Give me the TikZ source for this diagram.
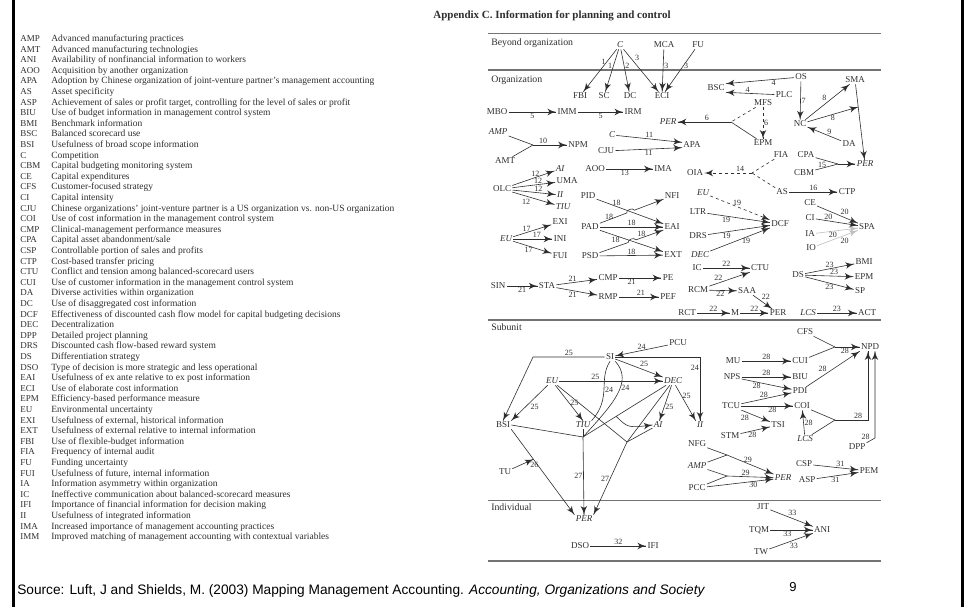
\documentclass[tikz,border=0pt]{standalone}
\usepackage{fontspec}
\setmainfont{Liberation Serif}
\newfontfamily\srcfont{Liberation Sans}
\usepackage{tikz}
\usetikzlibrary{arrows,decorations.markings}
\usetikzlibrary{positioning}
\definecolor{ink}{gray}{0.18}
\definecolor{rulegray}{gray}{0.45}
\tikzset{link1/.style={decoration={markings,mark=at position 1 with %
    {\arrow[scale=1.9,>=latex']{>}}},postaction={decorate}}}
\tikzset{var/.style={inner sep=1pt, font=\fontsize{9}{10}\selectfont},
    ivar/.style={inner sep=1pt, font=\fontsize{9}{10}\selectfont\itshape},
    lbl/.style={inner sep=0.8pt, font=\fontsize{8}{9}\selectfont},
    sec/.style={inner sep=0pt, anchor=west, font=\fontsize{9.8}{10}\selectfont},
    rule/.style={draw=rulegray, line width=0.9pt},
    faint/.style={draw=black!25},
    abbr/.style={inner sep=0pt, anchor=base west, font=\fontsize{9}{10}\selectfont},
    desc/.style={inner sep=0pt, anchor=base west, font=\fontsize{9.5}{10}\selectfont}}

\begin{document}
\begin{tikzpicture}[x=1pt, y=-1pt, line width=0.6pt, draw=ink, text=ink]
    \useasboundingbox (0,0) rectangle (964,607);

    %okvir
    \fill[black] (12,0) rectangle (15,607);
    \fill[black] (961,0) rectangle (964,607);

    %naslov
    \node[inner sep=0pt, font=\fontsize{11}{12}\selectfont\bfseries] (title) at (552,16)
        {Appendix C. Information for planning and control};

    %kratice
    \foreach \ab/\txt [count=\i from 0] in {
        AMP/Advanced manufacturing practices,
        AMT/Advanced manufacturing technologies,
        ANI/Availability of nonfinancial information to workers,
        AOO/Acquisition by another organization,
        APA/Adoption by Chinese organization of joint-venture partner's management accounting,
        AS/Asset specificity,
        ASP/{Achievement of sales or profit target, controlling for the level of sales or profit},
        BIU/Use of budget information in management control system,
        BMI/Benchmark information,
        BSC/Balanced scorecard use,
        BSI/Usefulness of broad scope information,
        C/Competition,
        CBM/Capital budgeting monitoring system,
        CE/Capital expenditures,
        CFS/Customer-focused strategy,
        CI/Capital intensity,
        CJU/Chinese organizations' joint-venture partner is a US organization vs. non-US organization,
        COI/Use of cost information in the management control system,
        CMP/Clinical-management performance measures,
        CPA/{Capital asset abandonment/sale},
        CSP/Controllable portion of sales and profits,
        CTP/Cost-based transfer pricing,
        CTU/Conflict and tension among balanced-scorecard users,
        CUI/Use of customer information in the management control system,
        DA/Diverse activities within organization,
        DC/Use of disaggregated cost information,
        DCF/Effectiveness of discounted cash flow model for capital budgeting decisions,
        DEC/Decentralization,
        DPP/Detailed project planning,
        DRS/Discounted cash flow-based reward system,
        DS/Differentiation strategy,
        DSO/Type of decision is more strategic and less operational,
        EAI/Usefulness of ex ante relative to ex post information,
        ECI/Use of elaborate cost information,
        EPM/Efficiency-based performance measure,
        EU/Environmental uncertainty,
        EXI/{Usefulness of external, historical information},
        EXT/Usefulness of external relative to internal information,
        FBI/Use of flexible-budget information,
        FIA/Frequency of internal audit,
        FU/Funding uncertainty,
        FUI/{Usefulness of future, internal information},
        IA/Information asymmetry within organization,
        IC/Ineffective communication about balanced-scorecard measures,
        IFI/Importance of financial information for decision making,
        II/Usefulness of integrated information,
        IMA/Increased importance of management accounting practices,
        IMM/Improved matching of management accounting with contextual variables}
    {
        \node[abbr] (ab\i) at (20, 41.5+10.6*\i) {\ab};
        \node[desc] (ds\i) at (51, 41.5+10.6*\i) {\txt};
    }

    %podjela
    \draw[rule] (488,33) -- (881,33);
    \draw[rule, line width=1.3pt] (488,70) -- (881,70);
    \draw[rule, line width=1.3pt] (488,320) -- (881,320);
    \draw[rule] (488,500) -- (881,500);
    \draw[rule, line width=1.2pt] (488,561) -- (881,561);
    \node[sec] (secB) at (491,43) {Beyond organization};
    \node[sec] (secO) at (491,80) {Organization};
    \node[sec] (secS) at (491,327) {Subunit};
    \node[sec] (secI) at (491,507) {Individual};

    %izvan organizacije
    \node[ivar] (bC) at (620,45) {C};
    \node[var] (mca) at (664,45) {MCA};
    \node[var] (fu) at (698,45) {FU};

    %organizacija
    \node[var] (fbi) at (580,96) {FBI};
    \node[var] (sc) at (604,96) {SC};
    \node[var] (dc) at (630,96) {DC};
    \node[var] (eci) at (662,96) {ECI};
    \node[var] (bsc) at (716,88) {BSC};
    \node[var] (os) at (801,77) {OS};
    \node[var] (plc) at (784,95) {PLC};
    \node[var] (mfs) at (763,103) {MFS};
    \node[var] (epm) at (763,143) {EPM};
    \node[var] (nc) at (800,124) {NC};
    \node[var] (sma) at (855,80) {SMA};
    \node[var] (da) at (849,144) {DA};
    \node[var] (mbo) at (497,112) {MBO};
    \node[var] (imm) at (567,112) {IMM};
    \node[var] (irm) at (633,112) {IRM};
    \node[ivar] (per1) at (668,122) {PER};
    \node[ivar] (amp) at (498,132) {AMP};
    \node[var] (amt) at (505,161) {AMT};
    \node[var] (npm) at (578,145) {NPM};
    \node[ivar] (c2) at (612,135) {C};
    \node[var] (cju) at (606,151) {CJU};
    \node[var] (apa) at (692,145) {APA};
    \node[var] (aoo) at (595,169) {AOO};
    \node[var] (ima) at (663,169) {IMA};
    \node[var] (oia) at (695,173) {OIA};
    \node[var] (fia) at (781,155) {FIA};
    \node[var] (cpa) at (806,155) {CPA};
    \node[var] (cbm) at (804,173) {CBM};
    \node[ivar] (per2) at (865,164) {PER};
    \node[var] (asn) at (782,192) {AS};
    \node[var] (ctp) at (847,192) {CTP};
    \node[var] (ce) at (810,203) {CE};
    \node[var] (ci) at (810,218) {CI};
    \node[var] (ia) at (810,234) {IA};
    \node[var] (io) at (811,248) {IO};
    \node[var] (spa) at (867,227) {SPA};
    \node[var] (olc) at (502,189) {OLC};
    \node[ivar] (ai) at (560,169) {AI};
    \node[var] (uma) at (567,181) {UMA};
    \node[ivar] (ii) at (560,195) {II};
    \node[ivar] (tiu) at (563,207) {TIU};
    \node[ivar] (eu1) at (506,239) {EU};
    \node[var] (exi) at (560,222) {EXI};
    \node[var] (ini) at (560,239) {INI};
    \node[var] (fui) at (560,256) {FUI};
    \node[var] (pid) at (588,196) {PID};
    \node[var] (pad) at (590,227) {PAD};
    \node[var] (psd) at (590,256) {PSD};
    \node[var] (nfi) at (672,196) {NFI};
    \node[var] (eai) at (672,227) {EAI};
    \node[var] (ext) at (673,255) {EXT};
    \node[ivar] (eu2) at (703,193) {EU};
    \node[var] (ltr) at (698,212) {LTR};
    \node[var] (drs) at (698,236) {DRS};
    \node[ivar] (dec2) at (700,255) {DEC};
    \node[var] (dcf) at (780,224) {DCF};
    \node[var] (ic) at (697,268) {IC};
    \node[var] (ctu) at (760,268) {CTU};
    \node[var] (rcm) at (698,290) {RCM};
    \node[var] (saa) at (747,291) {SAA};
    \node[var] (rct) at (687,313) {RCT};
    \node[var] (mm) at (735,313) {M};
    \node[var] (per3) at (778,313) {PER};
    \node[ivar] (lcs1) at (808,313) {LCS};
    \node[var] (act) at (867,313) {ACT};
    \node[var] (ds) at (798,275) {DS};
    \node[var] (bmi) at (864,262) {BMI};
    \node[var] (epm2) at (864,277) {EPM};
    \node[var] (sp) at (860,291) {SP};
    \node[var] (sin) at (498,286) {SIN};
    \node[var] (sta) at (547,286) {STA};
    \node[var] (cmp) at (608,278) {CMP};
    \node[var] (rmp) at (608,297) {RMP};
    \node[var] (pe) at (668,278) {PE};
    \node[var] (pef) at (668,297) {PEF};

    %strelice izvan organizacije
    \draw[link1] (bC) -- (fbi) node[lbl, pos=0.3, left] {1};
    \draw[link1] (bC) -- (sc) node[lbl, pos=0.4, left] {1};
    \draw[link1] (bC) -- (dc) node[lbl, pos=0.4, right] {2};
    \draw[link1] (bC) -- (eci) node[lbl, pos=0.3, above right] {3};
    \draw[link1] (mca) -- (eci) node[lbl, pos=0.4, right] {3};
    \draw[link1] (fu) -- (eci) node[lbl, pos=0.4, right] {3};

    %strelice organizacija
    \draw[link1] (mbo) -- (imm) node[lbl, midway, below] {5};
    \draw[link1] (imm) -- (irm) node[lbl, midway, below] {5};
    \draw[link1] (os) -- (bsc.north east) node[lbl, pos=0.3, below] {4};
    \draw[link1] (plc) -- (bsc.south east) node[lbl, pos=0.55, above] {4};
    \draw[link1] (os) -- (nc) node[lbl, midway, right] {7};
    \draw[dashed, link1] (mfs) -- (epm) node[lbl, midway, right] {6};
    \coordinate (y6) at (731,122);
    \draw[dashed] (mfs) -- (y6);
    \draw (epm) -- (y6);
    \draw[link1] (y6) -- (per1) node[lbl, pos=0.45, above] {6};
    \draw[link1] (nc) -- (sma) node[lbl, midway, above left] {8};
    \draw[link1] (sma) -- (per2) coordinate[pos=0.3] (m8);
    \draw[link1] (nc) -- (m8) node[lbl, midway, below] {8};
    \draw[link1] (da) -- (nc) node[lbl, pos=0.35, above] {9};

    \coordinate (y10) at (533,145);
    \draw (amp) -- (y10);
    \draw (amt) -- (y10);
    \draw[link1] (y10) -- (npm) node[lbl, pos=0.3, above] {10};
    \draw[link1] (c2) -- (apa.165) node[lbl, midway, above] {11};
    \draw[link1] (cju) -- (apa.195) node[lbl, midway, below] {11};
    \draw[link1] (aoo) -- (ima) node[lbl, pos=0.4, below] {13};

    \coordinate (y14) at (752,173);
    \draw[dashed] (fia) -- (y14);
    \draw[dashed] (asn) -- (y14);
    \draw[dashed, link1] (y14) -- (oia) node[lbl, pos=0.25, above] {14};
    \coordinate (y15) at (838,164);
    \draw (cpa) -- (y15);
    \draw (cbm) -- (y15) node[lbl, pos=0.3, above] {15};
    \draw[link1] (y15) -- (per2);
    \draw[link1] (asn) -- (ctp) node[lbl, midway, above] {16};

    \draw[link1] (ce) -- (spa) node[lbl, pos=0.55, above right] {20};
    \draw[link1] (ci) -- (spa) node[lbl, pos=0.3, above] {20};
    \draw[link1, faint] (ia) -- (spa) node[lbl, pos=0.4, below] {20};
    \draw[link1, faint] (io) -- (spa) node[lbl, pos=0.55, below right] {20};

    \draw[link1] (olc) -- (ai) node[lbl, pos=0.55, above] {12};
    \draw[link1] (olc) -- (uma) node[lbl, pos=0.6, above] {12};
    \draw[link1] (olc) -- (ii) node[lbl, pos=0.6, above] {12};
    \draw[link1] (olc) -- (tiu) node[lbl, pos=0.45, below left] {12};
    \draw[link1] (eu1) -- (exi) node[lbl, pos=0.35, above] {17};
    \draw[link1] (eu1) -- (ini) node[lbl, pos=0.6, above] {17};
    \draw[link1] (eu1) -- (fui) node[lbl, pos=0.4, below] {17};

    \draw[link1] (pid) -- (eai) node[lbl, pos=0.3, above] {18};
    \draw[link1] (pad) -- (626.7,213) to[bend left=90] (634.3,210.2) -- (nfi);
    \node[lbl] at (609,217) {18};
    \draw[link1] (pad) -- (eai) node[lbl, midway, above] {18};
    \draw[link1] (pad) -- (ext) node[lbl, pos=0.25, below] {18};
    \draw[link1] (psd) -- (628.2,242.5) to[bend left=90] (635.8,239.9)
        -- node[lbl, pos=0.2, above] {18} (eai);
    \draw[link1] (psd) -- (ext) node[lbl, midway, above] {18};

    \draw[dashed, link1] (eu2) -- (dcf) node[lbl, pos=0.45, above] {19};
    \draw[link1] (ltr) -- (dcf) node[lbl, pos=0.3, below] {19};
    \draw[link1] (drs) -- (dcf) node[lbl, pos=0.3, below] {19};
    \draw[link1] (dec2) -- (dcf) node[lbl, pos=0.6, below] {19};

    \draw[link1] (sin) -- (sta) node[lbl, midway, below] {21};
    \draw[link1] (sta) -- (cmp) node[lbl, pos=0.4, above] {21};
    \draw[link1] (sta) -- (rmp) node[lbl, pos=0.4, below] {21};
    \draw[link1] (cmp) -- (pe) node[lbl, pos=0.3, below] {21};
    \draw[link1] (rmp) -- (pef) node[lbl, pos=0.55, above] {21};

    \draw[link1] (ic) -- (ctu) node[lbl, midway, above] {22};
    \draw[link1] (rcm) -- (ctu.south west) node[lbl, pos=0.35, above left] {22};
    \draw[link1] (rcm) -- (saa) node[lbl, pos=0.4, below] {22};
    \draw[link1] (saa) -- (per3) node[lbl, pos=0.4, above right] {22};
    \draw[link1] (rct) -- (mm) node[lbl, midway, above] {22};
    \draw[link1] (mm) -- (per3) node[lbl, midway, above] {22};
    \draw[link1] (lcs1) -- (act) node[lbl, midway, above] {23};
    \draw[link1] (ds) -- (bmi) node[lbl, midway, above] {23};
    \draw[link1] (ds) -- (epm2) node[lbl, pos=0.6, above] {23};
    \draw[link1] (ds) -- (sp) node[lbl, midway, below] {23};

    %podjedinica
    \node[var] (si) at (610,357) {SI};
    \node[var] (pcu) at (678,343) {PCU};
    \node[ivar] (eu3) at (552,381) {EU};
    \node[ivar] (dec3) at (673,381) {DEC};
    \node[var] (bsi) at (503,425) {BSI};
    \node[ivar] (tiu2) at (583,425) {TIU};
    \node[ivar] (ai2) at (658,425) {AI};
    \node[ivar] (ii2) at (700,425) {II};
    \node[var] (tu) at (505,472) {TU};
    \node[ivar] (per4) at (584,519) {PER};
    \node[var] (cfs) at (805,332) {CFS};
    \node[var] (npd) at (870,347) {NPD};
    \node[var] (mu) at (733,361) {MU};
    \node[var] (cui) at (800,361) {CUI};
    \node[var] (nps) at (732,377) {NPS};
    \node[var] (biu) at (800,377) {BIU};
    \node[var] (pdi) at (800,391) {PDI};
    \node[var] (tcu) at (731,406) {TCU};
    \node[var] (coi) at (802,406) {COI};
    \node[var] (tsi) at (778,425) {TSI};
    \node[var] (stm) at (730,436) {STM};
    \node[ivar] (lcs2) at (805,439) {LCS};
    \node[var] (dpp) at (857,447) {DPP};
    \node[var] (nfg) at (697,444) {NFG};
    \node[ivar] (amp2) at (697,466) {AMP};
    \node[var] (pcc) at (697,488) {PCC};
    \node[ivar] (per5) at (783,478) {PER};
    \node[var] (csp) at (804,464) {CSP};
    \node[var] (asp) at (807,480) {ASP};
    \node[var] (pem) at (869,471) {PEM};

    \coordinate (siL) at (533,357);
    \coordinate (siR) at (700,357);
    \draw[link1] (si) -- node[lbl, above] {25} (siL) -- (bsi.north);
    \draw[link1] (si) -- (siR) -- node[lbl, pos=0.17, left] {24} (ii2);
    \draw[link1] (pcu) -- (si) node[lbl, midway, above] {24};
    \draw[link1] (si) -- (dec3) node[lbl, midway, above right] {25};
    \draw[link1] (eu3) -- (dec3) node[lbl, pos=0.35, above] {25};
    \draw[link1] (eu3) -- (bsi.north east) node[lbl, midway, below right] {25};
    \draw[link1] (eu3) -- (tiu2.north) node[lbl, midway, right] {25};
    \draw[link1] (dec3) -- (ai2) node[lbl, pos=0.6, right] {25};
    \draw[link1] (dec3) -- (ii2.north west) node[lbl, pos=0.3, right] {25};

    \coordinate (j1) at (583,437);
    \coordinate (j2) at (627,442);
    \draw[link1] (si.south) .. controls (598,380) and (612,398) .. (tiu2.north east)
        node[lbl, pos=0.5, right] {24};
    \draw (si.south east) .. controls (634,382) and (612,405) .. (j1)
        node[lbl, pos=0.4, right] {24};
    \draw (bsi.east) -- (j1);
    \draw (tiu2.south) -- (j1);
    \draw (eu3) -- (j2);
    \draw (dec3) -- (j1) coordinate[pos=0.6] (m25);
    \draw (dec3) -- (j2);
    \draw (ai2) -- (j2);
    \draw[link1] (m25) .. controls (628,428) .. (ai2.west);
    \draw[link1] (j1) -- (per4.north) node[lbl, midway, left] {27};
    \draw[link1] (j2) -- (per4.north east) node[lbl, midway, left] {27};
    \draw[link1] (bsi.south east) -- (per4.north west) coordinate[pos=0.35] (m26);
    \draw[link1] (tu) -- (m26) node[lbl, pos=0.8, below right] {26};

    \coordinate (y28a) at (835,347);
    \draw (cfs) -- (y28a);
    \draw (cui) -- (y28a);
    \draw[link1] (y28a) -- (npd) node[lbl, pos=0.4, below] {28};
    \draw[link1] (mu) -- (cui) node[lbl, midway, above] {28};
    \draw[link1] (nps) -- (biu) node[lbl, midway, above] {28};
    \draw[link1] (nps) -- (pdi) node[lbl, pos=0.3, below] {28};
    \draw[link1] (tcu) -- (pdi) node[lbl, pos=0.45, above] {28};
    \draw[link1] (tcu) -- (coi) node[lbl, pos=0.6, below] {28};
    \draw[link1] (tcu) -- (tsi) node[lbl, pos=0.3, below left] {28};
    \draw[link1] (stm) -- (tsi) node[lbl, pos=0.4, below] {28};
    \draw[link1] (pdi) -- (npd.south west) node[lbl, pos=0.4, above left] {28};
    \draw[link1] (lcs2) -- (coi) node[lbl, midway, right] {28};
    \coordinate (y28b) at (835,420);
    \coordinate (k28b) at (868,420);
    \coordinate (k28c) at (875,438);
    \draw (coi) -- (y28b);
    \draw (lcs2) -- (y28b);
    \draw[link1] (y28b) -- node[lbl, pos=0.7, above] {28} (k28b) -- (k28b |- npd.south);
    \draw[link1] (dpp.north east) -- node[lbl, above left] {28} (k28c) -- (k28c |- npd.south);

    \coordinate (y29a) at (727,455);
    \coordinate (y29b) at (727,476);
    \draw (nfg) -- (y29a);
    \draw (amp2) -- (y29a);
    \draw[link1] (y29a) -- (per5) node[lbl, pos=0.45, above] {29};
    \draw (amp2) -- (y29b);
    \draw (pcc) -- (y29b);
    \draw[link1] (y29b) -- (per5) node[lbl, pos=0.4, above] {29};
    \draw[link1] (pcc) -- (per5) node[lbl, pos=0.7, below] {30};
    \draw[link1] (csp) -- (pem) node[lbl, pos=0.6, above] {31};
    \draw[link1] (asp) -- (pem) node[lbl, pos=0.45, below] {31};

    %pojedinac
    \node[var] (dso) at (580,546) {DSO};
    \node[var] (ifi) at (653,546) {IFI};
    \node[var] (jit) at (763,507) {JIT};
    \node[var] (tqm) at (759,530) {TQM};
    \node[var] (tw) at (761,552) {TW};
    \node[var] (ani) at (822,530) {ANI};
    \draw[link1] (dso) -- (ifi) node[lbl, midway, above] {32};
    \draw[link1] (jit) -- (ani) node[lbl, pos=0.4, above right] {33};
    \draw[link1] (tqm) -- (ani) node[lbl, pos=0.4, below] {33};
    \draw[link1] (tw) -- (ani) node[lbl, pos=0.45, below right] {33};

    %izvor
    \node[inner sep=0pt, anchor=west, font=\srcfont\fontsize{13.7}{15}\selectfont, text=black] (src) at (17,591)
        {Source: Luft, J and Shields, M. (2003) Mapping Management Accounting. \textit{Accounting, Organizations and Society}};
    \node[inner sep=0pt, font=\srcfont\fontsize{13}{15}\selectfont, text=black] (pg) at (793,587) {9};
\end{tikzpicture}
\end{document}
